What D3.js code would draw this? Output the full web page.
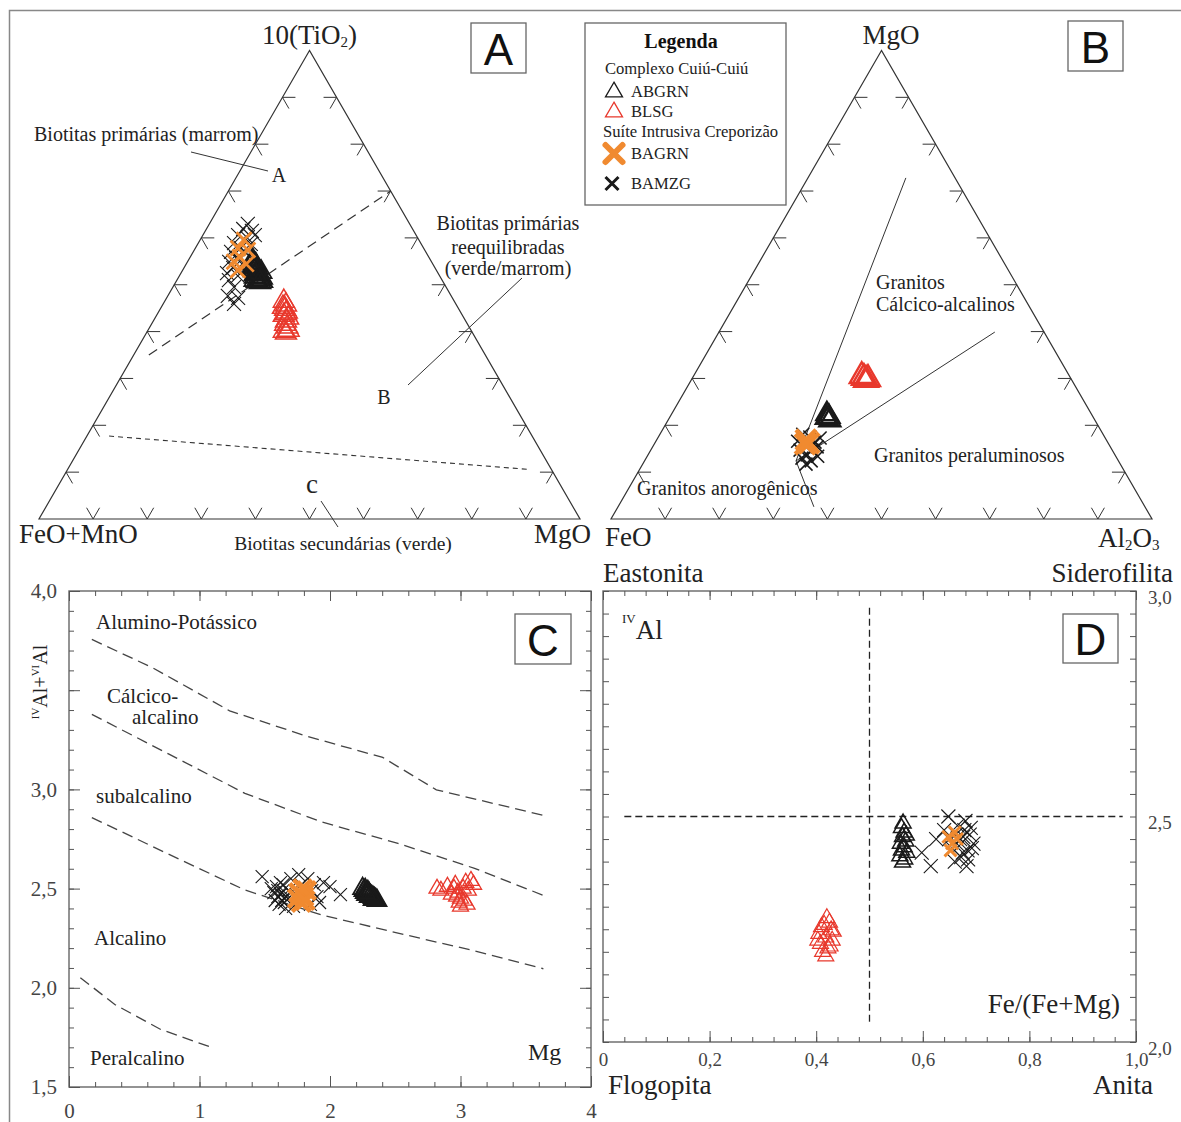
<!DOCTYPE html>
<html>
<head>
<meta charset="utf-8">
<script src="https://cdn.jsdelivr.net/npm/d3@7"></script>
<style>
  body { margin: 0; background: #fff; }
  text { font-family: "Liberation Serif", "Times New Roman", serif; fill: #222; }
  text.sans { font-family: "Liberation Sans", Arial, sans-serif; fill: #111; }
  text.tk { fill: #444; }
</style>
</head>
<body>
<svg id="fig" width="1181" height="1122"></svg>
<script>
/* ---- data ---- */

// A: ternary 10(TiO2) - FeO+MnO - MgO, values as [TiO2, FeO+MnO, MgO] in %
const aABGRN = [[54.6,33.2,12.2],[54.0,33.1,12.9],[53.1,33.7,13.2],[53.6,32.9,13.5],[52.5,33.6,13.9],
  [52.1,33.3,14.6],[51.7,34.2,14.1],[51.2,33.6,15.2],[50.8,34.3,14.9],[50.8,33.4,15.8],[53.8,33.5,12.7],
  [52.9,33.1,14.0],[54.3,32.8,12.9],[53.3,33.4,13.3],[52.3,33.9,13.8],[51.5,33.1,15.4],[52.7,32.6,14.7],
  [51.0,34.6,14.4],[55.2,32.9,11.9],[50.5,33.9,15.6]];
const aBLSG = [[46.5,31.5,22.0],[45.7,31.5,22.8],[44.8,32.1,23.1],[44.2,32.1,23.7],[43.5,33.0,23.5],
  [42.9,32.5,24.6],[42.3,33.2,24.5],[41.6,33.7,24.7],[41.0,33.6,25.4],[40.3,33.7,26.0],[39.7,34.5,25.8],
  [40.1,34.7,25.2],[45.2,32.3,22.5],[43.9,32.4,23.7]];
const aBAGRN = [[59.6,32.3,8.1],[57.8,34.3,7.9],[57.4,32.7,9.9],[55.9,34.9,9.2],[54.9,36.5,8.6],[54.4,34.5,11.1],[53.1,36.7,10.2]];
const aBAMZG = [[63.0,29.9,7.1],[61.9,31.3,6.8],[61.5,29.9,8.6],[60.6,32.9,6.5],[60.0,31.5,8.5],[58.9,34.5,6.6],
  [58.7,31.5,9.8],[57.8,33.8,8.4],[57.0,36.0,7.0],[56.8,33.3,9.9],[55.7,35.7,8.6],[54.9,37.4,7.7],[54.6,35.0,10.4],
  [53.6,37.3,9.1],[52.5,39.0,8.5],[51.9,37.3,10.8],[51.0,39.4,9.6],[49.5,39.2,11.3],[47.6,41.3,11.1],
  [47.2,39.6,13.2],[45.9,41.0,13.1],[60.6,29.8,9.6]];
const aLineAB = [[35.0,62.2,2.8],[70.0,0,30.0]];   // primary / re-equilibrated
const aLineBC = [[17.7,78.2,4.1],[10.6,4.4,85.0]];  // re-equilibrated / secondary

// B: ternary MgO - FeO - Al2O3, values as [MgO, FeO, Al2O3] in %
const bABGRN = [[22.4,48.9,28.7],[21.8,48.8,29.4],[21.6,49.4,29.0],[21.1,49.0,29.9]];
const bBLSG = [[30.5,38.4,31.1],[30.1,38.2,31.7],[29.7,38.0,32.3],[29.9,37.6,32.6]];
const bBAGRN = [[16.9,55.5,27.6],[16.2,55.3,28.5],[16.0,56.1,27.9]];
const bBAMZG = [[18.1,55.5,26.4],[17.5,54.5,28.0],[16.6,57.2,26.2],[16.4,54.1,29.5],[15.6,56.3,28.1],
  [14.7,57.7,27.6],[14.7,55.5,29.8],[13.7,56.9,29.4],[13.4,55.1,31.5],[13.0,58.2,28.8],[12.4,56.8,30.8],
  [11.7,58.1,30.2],[15.4,54.2,30.4],[17.3,52.7,30.0]];
const bJunction = [12.4,59.6,28.0];
const bLineEnds = [[72.8,9.1,18.1],[39.9,9.1,51.0],[2.6,61.2,36.2]];

// C: Mg vs IVAl+VIAl
const cABGRN = [[2.25,2.50],[2.26,2.49],[2.27,2.495],[2.28,2.48],[2.29,2.485],[2.29,2.47],[2.30,2.475],
  [2.31,2.465],[2.32,2.46],[2.33,2.455],[2.34,2.45],[2.35,2.445],[2.36,2.44],[2.30,2.46],[2.28,2.47],
  [2.33,2.445],[2.27,2.48]];
const cBLSG = [[2.82,2.50],[2.85,2.49],[2.90,2.51],[2.93,2.47],[2.96,2.52],[2.98,2.48],[3.00,2.45],
  [3.02,2.50],[3.04,2.53],[3.06,2.49],[2.99,2.43],[3.03,2.44],[3.08,2.54],[2.95,2.50],[3.10,2.52],
  [3.00,2.41],[3.05,2.42],[2.97,2.46]];
const cBAGRN = [[1.76,2.48],[1.80,2.46],[1.78,2.43],[1.82,2.49],[1.75,2.45],[1.79,2.50],[1.81,2.44]];
const cBAMZG = [[1.48,2.56],[1.55,2.50],[1.60,2.46],[1.62,2.53],[1.65,2.43],[1.68,2.49],[1.70,2.55],
  [1.72,2.41],[1.74,2.47],[1.78,2.52],[1.80,2.44],[1.83,2.55],[1.86,2.49],[1.90,2.46],[1.95,2.53],
  [2.00,2.51],[2.08,2.47],[1.58,2.44],[1.66,2.40],[1.85,2.42],[1.92,2.43],[1.64,2.52],[1.76,2.57],
  [1.60,2.49],[1.62,2.47],[1.66,2.46],[1.63,2.44],[1.57,2.48],[1.61,2.42],[1.64,2.49],[1.68,2.45],
  [1.59,2.51],[1.70,2.48],[1.88,2.52]];
const cLines = [
  [[0.175,3.756],[0.644,3.612],[1.231,3.396],[1.818,3.269],[2.404,3.161],[2.815,2.998],[3.635,2.869]],
  [[0.175,3.378],[0.762,3.179],[1.348,2.980],[1.935,2.836],[2.521,2.728],[3.108,2.602],[3.635,2.466]],
  [[0.175,2.858],[0.762,2.674],[1.348,2.493],[1.935,2.367],[2.521,2.276],[3.108,2.186],[3.635,2.096]],
  [[0.087,2.051],[0.351,1.916],[0.703,1.790],[1.113,1.695]]
];
const cXTicks = [0, 1, 2, 3, 4];
const cYTicks = [1.5, 2.0, 2.5, 3.0, 4.0];

// D: Fe/(Fe+Mg) vs IVAl
const dABGRN = [[0.560,2.475],[0.565,2.465],[0.562,2.455],[0.568,2.445],[0.558,2.440],[0.565,2.432],
  [0.560,2.425],[0.570,2.420],[0.557,2.412],[0.566,2.405],[0.562,2.398],[0.563,2.485],[0.569,2.458]];
const dBLSG = [[0.420,2.275],[0.425,2.265],[0.410,2.255],[0.428,2.248],[0.405,2.240],[0.418,2.232],
  [0.430,2.225],[0.408,2.218],[0.422,2.208],[0.412,2.200],[0.418,2.190],[0.426,2.212],[0.432,2.245],
  [0.403,2.225],[0.415,2.260]];
const dBAGRN = [[0.648,2.455],[0.655,2.440],[0.660,2.465],[0.652,2.425],[0.664,2.450]];
const dBAMZG = [[0.598,2.42],[0.615,2.39],[0.625,2.45],[0.640,2.47],[0.648,2.50],[0.655,2.43],[0.660,2.40],
  [0.665,2.48],[0.670,2.45],[0.675,2.42],[0.680,2.49],[0.682,2.39],[0.688,2.46],[0.692,2.43],[0.695,2.44],
  [0.672,2.41],[0.662,2.46],[0.685,2.405],[0.650,2.45],[0.678,2.47],[0.668,2.435],[0.684,2.425],
  [0.676,2.455],[0.690,2.475]];
const dVLine = [[0.5,2.045],[0.5,2.97]];
const dHLine = [[0.04,2.5],[0.975,2.5]];
const dXTicks = [0, 0.2, 0.4, 0.6, 0.8, 1.0];
const dYTicks = [2.0, 2.5, 3.0];

const triTicks = [10, 20, 30, 40, 50, 60, 70, 80, 90];

/* ---- helpers ---- */
const svg = d3.select("#fig");
const SQ = Math.sqrt(3) / 2;
const fmt = d3.formatLocale({decimal: ",", thousands: ".", grouping: [3], currency: ["", ""]}).format(".1f");

svg.append("rect").attr("width", 1181).attr("height", 1122).attr("fill", "#fff");
svg.append("path").attr("d", "M9.5,1122V10.5H1181")
  .attr("fill", "none").attr("stroke", "#888").attr("stroke-width", 1.5);

let triPath = function (w) {
  let h = w * SQ;
  return `M0,${-2 * h / 3}L${w / 2},${h / 3}L${-w / 2},${h / 3}Z`;
};
let crossPath = function (w) {
  let r = w / 2;
  return `M${-r},${-r}L${r},${r}M${-r},${r}L${r},${-r}`;
};
const styles = {
  ABGRN: {shape: triPath, color: "#1a1a1a"},
  BLSG: {shape: triPath, color: "#e8392d"},
  BAGRN: {shape: crossPath, color: "#f08a30"},
  BAMZG: {shape: crossPath, color: "#1a1a1a"}
};

function plotMarks(g, data, pos, key, size, width, cap) {
  let st = styles[key];
  g.append("g").selectAll("path").data(data).join("path")
    .attr("transform", d => "translate(" + pos(d) + ")")
    .attr("d", st.shape(size))
    .attr("fill", "none")
    .attr("stroke", st.color)
    .attr("stroke-width", width)
    .attr("stroke-linecap", cap || "butt");
}

function txt(g, x, y, str, size, anchor) {
  return g.append("text").attr("x", x).attr("y", y).attr("font-size", size)
    .attr("text-anchor", anchor || "start").attr("dominant-baseline", "central").text(str);
}

function panelLabel(x, y, w, h, letter) {
  svg.append("rect").attr("x", x).attr("y", y).attr("width", w).attr("height", h)
    .attr("fill", "#fff").attr("stroke", "#666").attr("stroke-width", 1.3);
  txt(svg, x + w / 2, y + h / 2 + 1, letter, 44, "middle").attr("class", "sans");
}

// ternary frame with chevron ticks; data as [top, left, right]
function ternary(left, right, bottom) {
  let h = (right - left) * SQ;
  let u = d3.scaleLinear().domain([0, 100]).range([left, right]);
  let v = d3.scaleLinear().domain([0, 100]).range([bottom, bottom - h]);
  let proj = function (d) {
    let s = d[0] + d[1] + d[2];
    let t = 100 * d[0] / s, r = 100 * d[2] / s;
    return [u(r + t / 2), v(t)];
  };
  let g = svg.append("g");
  g.append("path")
    .attr("d", d3.line()([proj([100, 0, 0]), proj([0, 100, 0]), proj([0, 0, 100])]) + "Z")
    .attr("fill", "none").attr("stroke", "#333").attr("stroke-width", 1.2);
  let L = 13, chev = [];
  triTicks.forEach(p => {
    chev.push([proj([0, 100 - p, p]), [-0.5, -SQ], [0.5, -SQ]]); // bottom
    chev.push([proj([p, 100 - p, 0]), [1, 0], [0.5, SQ]]);        // left
    chev.push([proj([p, 0, 100 - p]), [-1, 0], [-0.5, SQ]]);      // right
  });
  g.selectAll(".chev").data(chev).join("path")
    .attr("d", ([q, a, b]) => `M${q[0] + L * a[0]},${q[1] + L * a[1]}L${q[0]},${q[1]}L${q[0] + L * b[0]},${q[1] + L * b[1]}`)
    .attr("fill", "none").attr("stroke", "#333").attr("stroke-width", 1);
  return {g: g, proj: proj};
}

function axisPart(g, axis, tx, ty) {
  return g.append("g").attr("transform", `translate(${tx},${ty})`).call(axis)
    .call(a => a.select(".domain").remove())
    .call(a => a.selectAll("line").attr("stroke", "#555").attr("stroke-width", 1));
}

/* ---- panel A ---- */
let A = ternary(39, 580, 519);
A.g.append("path").attr("d", d3.line()(aLineAB.map(A.proj)))
  .attr("fill", "none").attr("stroke", "#333").attr("stroke-width", 1.2).attr("stroke-dasharray", "10,6");
A.g.append("path").attr("d", d3.line()(aLineBC.map(A.proj)))
  .attr("fill", "none").attr("stroke", "#333").attr("stroke-width", 1.1).attr("stroke-dasharray", "5,4");
plotMarks(A.g, aABGRN, A.proj, "ABGRN", 21, 1.8);
plotMarks(A.g, aBLSG, A.proj, "BLSG", 21, 1.5);
plotMarks(A.g, aBAMZG, A.proj, "BAMZG", 14, 1.1);
plotMarks(A.g, aBAGRN, A.proj, "BAGRN", 15, 2.8);

let t1 = txt(A.g, 309.5, 35, null, 27, "middle");
t1.append("tspan").text("10(TiO");
t1.append("tspan").attr("font-size", 15).attr("dy", 7).text("2");
t1.append("tspan").attr("dy", -7).text(")");
txt(A.g, 19, 534, "FeO+MnO", 27);
txt(A.g, 591, 534, "MgO", 27, "end");
txt(A.g, 34, 134, "Biotitas primárias (marrom)", 20);
txt(A.g, 279, 175, "A", 20, "middle");
txt(A.g, 508, 223, "Biotitas primárias", 20, "middle");
txt(A.g, 508, 247, "reequilibradas", 20, "middle");
txt(A.g, 508, 268, "(verde/marrom)", 20, "middle");
txt(A.g, 384, 397, "B", 20, "middle");
txt(A.g, 312, 484, "c", 27, "middle");
txt(A.g, 343, 543, "Biotitas secundárias (verde)", 19.5, "middle");
A.g.append("path").attr("d", "M191,152L268,171M522,278L408,385M321,501L338,527")
  .attr("fill", "none").attr("stroke", "#333").attr("stroke-width", 1);
panelLabel(471, 23, 55, 50, "A");

/* ---- panel B ---- */
let B = ternary(611, 1152, 519);
B.g.append("g").selectAll("path").data(bLineEnds).join("path")
  .attr("d", d => d3.line()([B.proj(bJunction), B.proj(d)]))
  .attr("fill", "none").attr("stroke", "#333").attr("stroke-width", 1);
plotMarks(B.g, bABGRN, B.proj, "ABGRN", 21, 2.4);
plotMarks(B.g, bBLSG, B.proj, "BLSG", 24, 2.4);
plotMarks(B.g, bBAMZG, B.proj, "BAMZG", 13, 1.6);
plotMarks(B.g, bBAGRN, B.proj, "BAGRN", 20, 4.5);

txt(B.g, 891, 35, "MgO", 27, "middle");
txt(B.g, 605, 537, "FeO", 27);
let t2 = txt(B.g, 1098, 538, null, 27);
t2.append("tspan").text("Al");
t2.append("tspan").attr("font-size", 15).attr("dy", 7).text("2");
t2.append("tspan").attr("dy", -7).text("O");
t2.append("tspan").attr("font-size", 15).attr("dy", 7).text("3");
txt(B.g, 603, 573, "Eastonita", 27);
txt(B.g, 1173, 573, "Siderofilita", 27, "end");
txt(B.g, 876, 282, "Granitos", 20);
txt(B.g, 876, 304, "Cálcico-alcalinos", 20);
txt(B.g, 874, 455, "Granitos peraluminosos", 20);
txt(B.g, 637, 488, "Granitos anorogênicos", 20);
panelLabel(1068, 21, 55, 50, "B");

/* ---- legend ---- */
const legendGroups = ["Complexo Cuiú-Cuiú", "Suíte Intrusiva Creporizão"];
const legendNames = ["ABGRN", "BLSG", "BAGRN", "BAMZG"];
let lg = svg.append("g");
lg.append("rect").attr("x", 585).attr("y", 23).attr("width", 201).attr("height", 182)
  .attr("fill", "#fff").attr("stroke", "#666").attr("stroke-width", 1.3);
txt(lg, 681, 41, "Legenda", 20, "middle").attr("font-weight", "bold").style("fill", "#111");
txt(lg, 605, 68, legendGroups[0], 16.6);
txt(lg, 603, 131, legendGroups[1], 16.6);
let legRows = [[614, 92, 91, 17, 1.3], [614, 112, 111, 17, 1.3], [614, 153.5, 153.5, 17, 6], [612, 183.5, 183.5, 13, 3]];
legendNames.forEach((n, i) => {
  let r = legRows[i];
  plotMarks(lg, [[r[0], r[1]]], d => d, n, r[3], r[4], n === "BAGRN" ? "round" : "butt");
  txt(lg, 631, r[2], n, 16.6);
});

/* ---- panel C ---- */
let gC = svg.append("g");
let xC = d3.scaleLinear().domain([0, 4]).range([69, 591]);
let yC = d3.scaleLinear().domain([1.5, 4.0]).range([1087, 591]);
let posC = d => [xC(d[0]), yC(d[1])];
gC.append("rect").attr("x", 69).attr("y", 591).attr("width", 522).attr("height", 496)
  .attr("fill", "none").attr("stroke", "#666").attr("stroke-width", 1.4);
let cxMinor = d3.range(0, 4.001, 0.2), cyMinor = d3.range(1.5, 4.001, 0.1), cyMajor = d3.range(1.5, 4.001, 0.5);
axisPart(gC, d3.axisBottom(xC).tickValues(cxMinor).tickSize(-5).tickFormat(""), 0, 1087);
axisPart(gC, d3.axisTop(xC).tickValues(cxMinor).tickSize(-5).tickFormat(""), 0, 591);
axisPart(gC, d3.axisTop(xC).tickValues(cXTicks).tickSize(-10).tickFormat(""), 0, 591);
axisPart(gC, d3.axisLeft(yC).tickValues(cyMinor).tickSize(-5).tickFormat(""), 69, 0);
axisPart(gC, d3.axisRight(yC).tickValues(cyMinor).tickSize(-5).tickFormat(""), 591, 0);
axisPart(gC, d3.axisRight(yC).tickValues(cyMajor).tickSize(-11).tickFormat(""), 591, 0);
axisPart(gC, d3.axisBottom(xC).tickValues(cXTicks).tickSize(-11).tickPadding(16).tickFormat(d3.format("d")), 0, 1087)
  .attr("font-size", 21).selectAll("text").attr("class", "tk");
axisPart(gC, d3.axisLeft(yC).tickValues(cyMajor).tickSize(-11).tickPadding(12)
  .tickFormat(d => cYTicks.some(v => Math.abs(v - d) < 1e-6) ? fmt(d) : ""), 69, 0)
  .attr("font-size", 21).selectAll("text").attr("class", "tk");

gC.append("g").selectAll("path").data(cLines).join("path")
  .attr("d", d3.line().x(d => xC(d[0])).y(d => yC(d[1])))
  .attr("fill", "none").attr("stroke", "#444").attr("stroke-width", 1.3).attr("stroke-dasharray", "11,6");
plotMarks(gC, cABGRN, posC, "ABGRN", 19, 1.8);
plotMarks(gC, cBLSG, posC, "BLSG", 16, 1.3);
plotMarks(gC, cBAMZG, posC, "BAMZG", 13, 1.1);
plotMarks(gC, cBAGRN, posC, "BAGRN", 18, 4.5);

txt(gC, 96, 622, "Alumino-Potássico", 21);
txt(gC, 107, 696, "Cálcico-", 21);
txt(gC, 132, 717, "alcalino", 21);
txt(gC, 96, 796, "subalcalino", 21);
txt(gC, 94, 938, "Alcalino", 21);
txt(gC, 90, 1058, "Peralcalino", 21);
txt(gC, 528, 1052, "Mg", 24);
let t3 = gC.append("text").attr("transform", "translate(47,682) rotate(-90)")
  .attr("text-anchor", "middle").attr("font-size", 20);
t3.append("tspan").attr("font-size", 11).attr("dy", -8).text("IV");
t3.append("tspan").attr("dy", 8).text("Al+");
t3.append("tspan").attr("font-size", 11).attr("dy", -8).text("VI");
t3.append("tspan").attr("dy", 8).text("Al");
panelLabel(515, 614, 56, 50, "C");

/* ---- panel D ---- */
let gD = svg.append("g");
let xD = d3.scaleLinear().domain([0, 1]).range([603, 1136]);
let yD = d3.scaleLinear().domain([2.0, 3.0]).range([1042, 591]);
let posD = d => [xD(d[0]), yD(d[1])];
gD.append("rect").attr("x", 603).attr("y", 591).attr("width", 533).attr("height", 451)
  .attr("fill", "none").attr("stroke", "#666").attr("stroke-width", 1.4);
let dxMinor = d3.range(0, 1.001, 0.04), dyMinor = d3.range(2.0, 3.001, 0.05);
axisPart(gD, d3.axisBottom(xD).tickValues(dxMinor).tickSize(-5).tickFormat(""), 0, 1042);
axisPart(gD, d3.axisTop(xD).tickValues(dxMinor).tickSize(-5).tickFormat(""), 0, 591);
axisPart(gD, d3.axisTop(xD).tickValues(dXTicks).tickSize(-9).tickFormat(""), 0, 591);
axisPart(gD, d3.axisLeft(yD).tickValues(dyMinor).tickSize(-6).tickFormat(""), 603, 0);
axisPart(gD, d3.axisRight(yD).tickValues(dyMinor).tickSize(-6).tickFormat(""), 1136, 0);
axisPart(gD, d3.axisBottom(xD).tickValues(dXTicks).tickSize(-11).tickPadding(11)
  .tickFormat(d => d === 0 ? "0" : fmt(d)), 0, 1042)
  .attr("font-size", 19).selectAll("text").attr("class", "tk");
axisPart(gD, d3.axisRight(yD).tickValues(dYTicks).tickSize(0).tickPadding(12).tickFormat(fmt), 1136, 6)
  .attr("font-size", 19).selectAll("text").attr("class", "tk");

gD.append("path").attr("d", d3.line()(dVLine.map(posD)))
  .attr("fill", "none").attr("stroke", "#222").attr("stroke-width", 1.3).attr("stroke-dasharray", "7,4");
gD.append("path").attr("d", d3.line()(dHLine.map(posD)))
  .attr("fill", "none").attr("stroke", "#222").attr("stroke-width", 1.3).attr("stroke-dasharray", "7,4");
plotMarks(gD, dABGRN, posD, "ABGRN", 16, 1.5);
plotMarks(gD, dBLSG, posD, "BLSG", 16, 1.2);
plotMarks(gD, dBAMZG, posD, "BAMZG", 14, 1.1);
plotMarks(gD, dBAGRN, posD, "BAGRN", 12, 3);

let t4 = gD.append("text").attr("x", 622).attr("y", 639).attr("font-size", 27);
t4.append("tspan").attr("font-size", 13).attr("dy", -16).text("IV");
t4.append("tspan").attr("dy", 16).text("Al");
txt(gD, 1120, 1004, "Fe/(Fe+Mg)", 27, "end");
txt(gD, 608, 1085, "Flogopita", 27);
txt(gD, 1153, 1085, "Anita", 27, "end");
panelLabel(1063, 614, 55, 49, "D");
</script>
</body>
</html>
